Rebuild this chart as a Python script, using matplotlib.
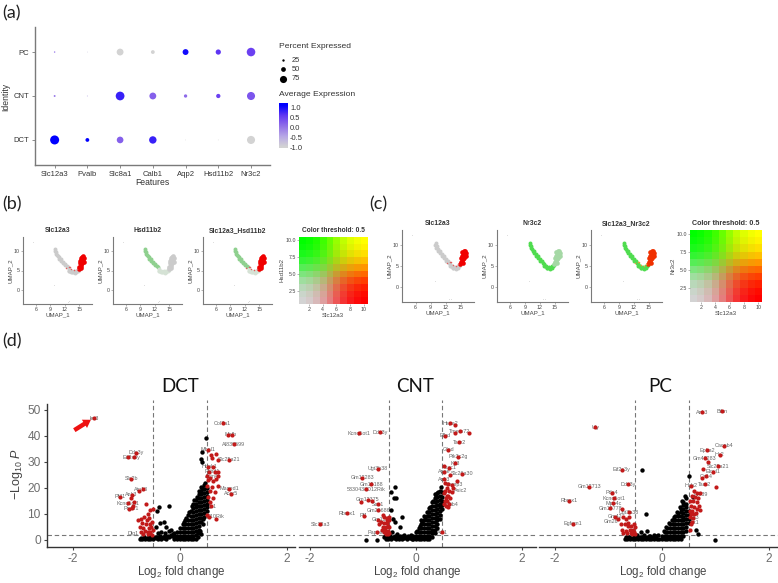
import numpy as np
import matplotlib
matplotlib.use("Agg")
import matplotlib.pyplot as plt
from matplotlib.colors import LinearSegmentedColormap

plt.rcParams["font.family"] = ["Liberation Sans", "DejaVu Sans"]
plt.rcParams["mathtext.fontset"] = "custom"
plt.rcParams["mathtext.rm"] = "Liberation Sans"
plt.rcParams["mathtext.it"] = "Liberation Sans:italic"
plt.rcParams["mathtext.default"] = "regular"

W, H = 778, 583

# ---- panel (a) dot plot values
features = ["Slc12a3", "Pvalb", "Slc8a1", "Calb1", "Aqp2", "Hsd11b2", "Nr3c2"]
identities = ["DCT", "CNT", "PC"]
pct_dct = [95, 40, 70, 78, 8, 8, 85]
pct_cnt = [20, 10, 92, 72, 35, 45, 85]
pct_pc = [15, 8, 72, 40, 62, 55, 90]
avg_dct = [1.1, 1.1, 0.2, 0.8, -1.0, -1.0, -1.0]
avg_cnt = [0.0, -0.5, 0.8, 0.2, 0.1, 0.5, 0.3]
avg_pc = [0.0, -0.8, -1.0, -1.0, 1.0, 0.6, 0.5]
legend_pct = [25, 50, 75]
legend_avg = [1.0, 0.5, 0.0, -0.5, -1.0]

# ---- panels (b) and (c): UMAP points
tail_x = [10.0, 9.9, 10.2, 10.1, 10.4, 10.5, 10.8, 10.9, 11.2, 11.3, 11.6, 11.7, 12.0, 12.1, 12.4, 12.6]
tail_y = [10.4, 9.9, 9.7, 9.3, 9.1, 8.6, 8.5, 8.0, 7.9, 7.4, 7.3, 6.9, 6.7, 6.3, 6.2, 5.8]
bottom_x = [12.8, 13.0, 13.3, 13.5, 13.8, 14.1, 14.4, 14.7, 14.9, 15.0, 12.9, 13.4, 13.9, 14.4]
bottom_y = [5.4, 5.0, 4.9, 4.5, 4.5, 4.4, 4.6, 4.9, 5.2, 5.7, 5.0, 4.6, 4.8, 5.0]
blob_x = [14.9, 15.0, 15.3, 15.1, 15.5, 15.7, 15.2, 15.5, 15.8, 16.0, 15.3, 15.6, 16.0, 15.8, 15.5]
blob_y = [5.4, 6.0, 6.2, 6.8, 6.7, 6.9, 7.5, 7.7, 7.5, 7.3, 8.3, 8.5, 8.1, 8.7, 5.7]
fleck_x = [12.3, 12.8, 13.4, 14.0, 14.5, 13.1]
fleck_y = [5.6, 5.9, 5.3, 5.1, 5.5, 6.0]
stray_x = [5.3, 13.0, 9.8, 12.6]
stray_y = [12.4, -2.8, 1.3, -3.0]
umap_xticks = [6, 9, 12, 15]
umap_yticks = [0, 5, 10]
blend_levels = [1, 2, 3, 4, 5, 6, 7, 8, 9, 10]

# ---- panel (d): DCT
dct_black_x = [-.75, -.7, -.65, -.6, -.55, -.5, -.45, -.4, -.35, -.3, -.25, -.2, -.15,
               -.72, -.67, -.62, -.57, -.52, -.47, -.42, -.37, -.32, -.27, -.22, -.17, -.12,
               -.45, -.37, -.3, -.25, -.35, -.4, -.28, -.2, -.38, -.42, -.17, -.2, .4, .48, .41, .42,
               -.1, -.1, -.1, -.05, -.05, -.05, 0, 0, 0, 0,
               .05, .05, .05, .05, .05, .1, .1, .1, .1, .1, .1,
               .15, .15, .15, .15, .15, .15, .15, .2, .2, .2, .2, .2, .2, .2, .2,
               .25, .25, .25, .25, .25, .25, .25, .25, .25, .25,
               .3, .3, .3, .3, .3, .3, .3, .3, .3, .3, .3,
               .35, .35, .35, .35, .35, .35, .35, .35, .35, .35, .35,
               .4, .4, .4, .4, .4, .4, .4, .4, .4, .4,
               .45, .45, .45, .45, .45, .45, .45, .45, .45,
               .5, .5, .5, .5, .5, .5, .5,
               .07, .12, .17, .22, .27, .32, .37, .42, .47, .33, .38, .43, .34, .39, .44]
dct_black_y = [.3, .2, .4, .3, .5, .2, .6, .3, .5, .8, .4, 1, 1.5,
               .9, 1.1, .8, 1.2, .9, 1.3, 1, 1.4, 1.1, 1.6, 1.4, 2, 2.2,
               5, 6.5, 7, 5, 3, 2.5, 2.5, 3.5, 12.5, 11, 4, 13, 31, 39.3, 34, 30,
               .3, 1.5, 2.8, .3, 1.7, 3.2, .3, 1.7, 3.2, 4.5,
               .3, 1.7, 3.2, 4.7, 6, .3, 1.7, 3.2, 4.7, 6.2, 7.5,
               .3, 1.7, 3.2, 4.7, 6.2, 7.7, 9.5, .3, 1.7, 3.2, 4.7, 6.2, 7.7, 9.2, 11,
               .3, 1.7, 3.2, 4.7, 6.2, 7.7, 9.2, 10.7, 12.2, 14,
               .3, 2, 3.5, 5, 6.5, 8, 9.5, 11, 12.5, 14, 15.5,
               4, 5.5, 7, 8.5, 10, 11.5, 13, 14.5, 16, 17.5, 19,
               7, 8.5, 10, 11.5, 13, 14.5, 16, 17.5, 19, 20.5,
               9, 10.5, 12, 13.5, 15, 16.5, 18, 19.5, 21,
               11, 12.5, 14, 15.5, 17, 18.5, 20,
               6.9, 8.6, 10.6, 13, 15.2, 16.6, 18.2, 20, 22, 2.6, 3.4, 6, 1.2, 2.4, 8]
dct_red_x = [.53, .59, .68, .72, .6, .53, .62, .55, .65, .72, .5, .57, .72, .68, .53, .62, .51, .6, .72, .56, .65, .53, .62, .56, .51, .55, .68,
             -.5, -.55, -.6, -.64, -.72, -.78, -.7, -.66, -.62, -.58, -.55, -.52, -.75, -.68, -.63, -.58, -.53, -.72, -.65, -.6, -.55, -.5, -.68, -.6, -.55, -.52, -.85, -.92, -.88, -.95]
dct_red_y = [34.6, 32.7, 33, 30.8, 31.4, 28.2, 28, 26.3, 26.3, 26.3, 24.4, 24, 24.6, 23.3, 23, 22.8, 20.8, 20.5, 20.8, 19, 18.6, 16.7, 16, 14.7, 9.6, 8.7, 8,
             12, 11.5, 10, 13.8, 8, 7.5, 6.5, 9, 7.5, 8.5, 6, 7, 5, 4.5, 6, 4.5, 5, 3, 3.5, 3, 3, 4, 2.2, 2.2, 2.5, 2.1, 14.5, 16, 13, 12]
dct_labels = ["Ier3", "Col7a1", "Mafb", "AI839599", "Slc25a21", "Ddx3y", "Eif2s3y", "Slc2b", "Atp13", "Pf41", "Ank3", "Kcnq1ot1", "Pcdh1",
              "Mbnl1", "Maged1", "Acer5", "D10Rik", "Hp1", "Hook1", "Pkhd1", "Actn4", "Dlg1"]
dct_label_x = [-1.6, .8, .94, 1.01, .92, -.81, -.9, -.91, -.72, -1.12, -.9, -.96, -.9, .53, .92, .96, .66, .59, .55, .6, .6, -.88]
dct_label_y = [46.7, 44.9, 40.4, 36.7, 30.8, 33.6, 31.8, 23.5, 19.3, 16.7, 17.3, 14.1, 12.2, 34.6, 19.6, 17.7, 9.2, 13, 28.2, 26.3, 24.4, 2.5]
dct_labeled_red_x = [-1.6, .8, .89, .98, 1.01, .92, -.81, -.96, -.85, -.91, -.76, -.68, -1.12, -.9, -.96, -.9, .92, .96, .59]
dct_labeled_red_y = [46.7, 44.9, 40.4, 40.4, 36.7, 30.8, 33.6, 31.8, 31.8, 23.5, 19, 19.6, 16.7, 17.3, 14.1, 12.2, 19.6, 17.7, 13]

# ---- panel (d): CNT
cnt_black_x = [-.93, -.74, -.6, -.56, -.52, -.47, -.42, -.37, -.32, -.27, -.22, -.17, -.12, -.07,
               -.58, -.54, -.49, -.44, -.39, -.34, -.29, -.24, -.19, -.14, -.09,
               -.4, -.47, -.37, -.42, -.46, -.26, -.43, -.4, -.3, -.22, -.5, -.45, -.36,
               -.05, -.05, 0, 0, 0, .05, .05, .05, .05, .1, .1, .1, .1, .1, .1,
               .15, .15, .15, .15, .15, .15, .15, .2, .2, .2, .2, .2, .2, .2, .2,
               .25, .25, .25, .25, .25, .25, .25, .25, .25,
               .3, .3, .3, .3, .3, .3, .3, .3, .3, .3,
               .35, .35, .35, .35, .35, .35, .35, .35, .35, .35, .35,
               .4, .4, .4, .4, .4, .4, .4, .4, .4, .4, .45, .45, .45, .45, .45, .45, .45, .45, .5, .5, .5, .5, .5,
               .02, .07, .12, .17, .22, .27, .32, .37, .42, .47]
cnt_black_y = [0, .1, 1, .5, .4, .3, .6, .3, .5, .4, .6, .3, .8, .5,
               1.4, 1.1, 1.5, 1.2, 1.6, 1.3, 1.4, 1.6, 1.2, 1.5, 1.8,
               20.5, 18.6, 16.2, 16, 11.5, 8.7, 8, 7, 5, 2, 2, 3, 2.2,
               .3, 1.5, .3, 1.7, 3, .3, 1.7, 3.2, 4.5, .3, 1.7, 3.2, 4.7, 6.2, 7.5,
               .3, 1.7, 3.2, 4.7, 6.2, 7.7, 9.3, .3, 1.7, 3.2, 4.7, 6.2, 7.7, 9.2, 10.8,
               .3, 1.7, 3.2, 4.7, 6.2, 7.7, 9.2, 10.7, 12.3,
               1, 2.5, 4, 5.5, 7, 8.5, 10, 11.5, 13, 14.5,
               2.5, 4, 5.5, 7, 8.5, 10, 11.5, 13, 14.5, 16, 17.5,
               4.5, 6, 7.5, 9, 10.5, 12, 13.5, 15, 16.5, 18, 8, 9.5, 11, 12.5, 14, 15.5, 17, 19, 12, 13.5, 15, 16.5, 18.5,
               3.6, 5.2, 7, 8.7, 10.6, 12.6, 15, 16.8, 18.6, 20.4]
cnt_red_x = [.64, .74, .74, .83, 1.0, .55, .82, .61, .8, .74, .63, .53, .53, .87, .64, .53, .77, .55, .6, .67, .7, .58, .62, .55, .52, .6, .56, .65, .58, .53, .63, .56, .6, .5, .54, .58, .67,
             -1.03, -.83, -.6, -.55, -.5, -.72, -.66, -.6, -.55, -.52, -.62, -.56, -.51, -.7, -.64, -.58, -.53, -.6, -.55, -.51, -.57, -.53, -.62, -.55, -.51]
cnt_red_y = [44.9, 44, 41, 41.7, 41, 40, 37.6, 34.6, 32, 29.5, 27.8, 28.5, 26.3, 25.4, 25, 23.3, 22.8, 22, 21.5, 21, 20, 20, 19, 19, 18, 17, 16, 16, 15, 14, 14, 13, 12.5, 3, 15, 17, 18.5,
             14.5, 15, 9, 8.5, 7.5, 7.5, 7, 6.5, 6.5, 5.5, 5, 5, 5, 6, 4, 4, 3.5, 3, 3, 2.5, 2.2, 2.2, 9.5, 7.5, 9]
cnt_labels = ["Hspa2", "Tmem72", "Efhd", "Tacr2", "Gfod", "Pik3c2g", "Kif3", "Foxc1", "Apoe", "Slc26a30", "Ank3", "Ramp3", "Asic2", "Nfib4",
              "Kcnq1ot1", "Ddx3y", "Ugt3b38", "Gm12283", "Gm15188", "5330438D12Rik", "Gm12375", "Sox1", "Gm26686", "Rbmx1", "Pf1", "Slc12a3", "Gm13786", "Pappa2", "Adi1"]
cnt_label_x = [.64, .83, .55, .82, .61, .8, .74, .63, .53, .87, .53, .72, .85, .67,
               -1.08, -.68, -.71, -1.01, -.84, -.93, -.91, -.71, -.71, -1.3, -.98, -1.8, -.6, -.74, .5]
cnt_label_y = [44.9, 41.7, 40, 37.6, 34.6, 32, 29.5, 27.8, 26.3, 25.4, 23.3, 21.3, 18.9, 13.5,
               41, 41.5, 27.4, 24, 21.5, 19.5, 15.4, 13.7, 11.4, 10.3, 9.4, 6, 8, 3, 3]
cnt_labeled_red_x = [-1.08, -.68, -.71, -1.01, -.84, -.93, -.91, -.71, -.71, -1.3, -.98, -1.8, -.74]
cnt_labeled_red_y = [41, 41.5, 27.4, 24, 21.5, 19.5, 15.4, 13.7, 11.4, 10.3, 9.4, 6, 3]

# ---- panel (d): PC
pc_black_x = [-.69, -.65, -.6, -.55, -.5, -.45, -.4, -.35, -.3, -.25, -.2, -.15, -.1, -.05,
              -.67, -.62, -.57, -.52, -.47, -.42, -.37, -.32, -.27, -.22, -.17, -.12, -.07,
              -.37, -.29, -.46, -.4, -.34, -.25, -.15, -.28, .5, .99, .68, .58, .63,
              0, 0, .05, .05, .05, .1, .1, .1, .1, .15, .15, .15, .15, .15,
              .2, .2, .2, .2, .2, .2, .25, .25, .25, .25, .25, .25, .25,
              .3, .3, .3, .3, .3, .3, .3, .3, .35, .35, .35, .35, .35, .35, .35, .35, .35,
              .4, .4, .4, .4, .4, .4, .4, .4, .4, .4, .45, .45, .45, .45, .45, .45, .45, .45, .45,
              .5, .5, .5, .5,
              .03, .08, .13, .18, .23, .28, .33, .38, .43]
pc_black_y = [.2, .3, .2, .4, .2, .3, .4, .2, .3, .5, .2, .3, .4, .5,
              1, 1.2, .9, 1.1, 1.2, 1, 1.3, 1, 1.2, 1.4, 1.1, 1.5, 1.8,
              27, 9.9, 2, 3, 1.8, 1.6, 2, 3.5, 24.6, 0, 2.3, 16.5, 4,
              .3, 1.5, .3, 1.7, 3, .3, 1.7, 3.2, 4.5, .3, 1.7, 3.2, 4.7, 6,
              .3, 1.7, 3.2, 4.7, 6.2, 7.5, .3, 1.7, 3.2, 4.7, 6.2, 7.7, 9.2,
              .3, 1.7, 3.2, 4.7, 6.2, 7.7, 9.2, 10.5, .3, 1.7, 3.2, 4.7, 6.2, 7.7, 9.2, 10.7, 12,
              1.5, 3, 4.5, 6, 7.5, 9, 10.5, 12, 13.5, 14.5, 3.5, 5, 6.5, 8, 9.5, 11, 12.5, 14, 16,
              6.5, 8, 9.5, 11,
              3.4, 5, 6.4, 7.8, 9, 10.6, 12.8, 15, 16.8]
pc_red_x = [.75, 1.13, .77, .74, .87, 1.01, .54, .6, .65, .72, .56, .62, .68, .53, .58, .65, .7, .55, .6, .66, .72, .52, .57, .63, .55, .6, .53, .58, .57, .55, .52,
            -.97, -.88, -.74, -.82, -.72, -.68, -.62, -.76, -.7, -.64, -.58, -.52, -.75, -.67, -.6, -.55, -.5, -.72, -.65, -.58, -.52, -.63, -.56, -.5]
pc_red_y = [49, 49.4, 27.4, 24, 29.9, 20.5, 20.8, 19, 18, 18, 17, 16.5, 16, 15, 15, 14.5, 13, 13, 12.5, 12, 11.5, 11, 11, 10.5, 10, 10, 9, 8.5, 7, 6, 4,
            12.2, 9, 12, 8, 9, 8, 9, 6, 6, 6.5, 5.5, 6, 4, 3.5, 4, 4, 5, 2.8, 2.6, 2.5, 3, 5.5, 2.2, 2.2]
pc_labels = ["Uty", "Ank3", "Btbn", "Cacnb4", "Epha2", "Hk2", "Gm47283", "Slc25a21", "Elovl1", "Ca14", "Tacr2", "Hbb2", "Rnf39", "Ka3", "Wnt1",
             "Eif2s3y", "Ddx3y", "Gm12713", "Pde4", "Kcnq1ot1", "Mpp4c", "Gm13778", "Ugt3a38", "Rbmx1", "Egfem1", "Gm42", "Gm26"]
pc_label_x = [-1.25, .75, 1.13, 1.16, .85, 1.08, .8, 1.05, .96, .83, .8, .54, .72, .6, .58,
              -.75, -.63, -1.36, -.94, -.9, -.91, -.97, -.62, -1.73, -1.66, -.88, -.95]
pc_label_y = [43.3, 49, 49.4, 36.2, 34.4, 32.8, 31.4, 28.3, 26.2, 24.4, 21.5, 20.8, 17.5, 8.6, 6.7,
              27, 21.5, 20.4, 18.2, 16, 14.1, 12.2, 10.6, 15.1, 6.2, 9, 7]
pc_labeled_red_x = [-1.25, 1.16, .85, 1.08, .8, 1.05, .96, .83, .8, -.75, -.63, -1.36, -.94, -.9, -.91, -.62, -1.73, -1.66]
pc_labeled_red_y = [43.3, 36.2, 34.4, 32.8, 31.4, 28.3, 26.2, 24.4, 21.5, 27, 21.5, 20.4, 18.2, 16, 14.1, 10.6, 15.1, 6.2]

# ---- shared colours
GREY_TXT = "#4d4d4d"
AXIS_GREY = "#7a7a7a"
RED = "#c21a1a"
# grey to blue goes through purple in the reference
dot_cmap = LinearSegmentedColormap.from_list("dot", ["#d3d3d3", "#b8a8e6", "#9270e8", "#6438f2", "#0000ff"])


def add_ax(x0, y0, x1, y1):
    # axes given in pixels of the 778x583 picture, y going down
    return fig.add_axes([x0 / W, 1 - y1 / H, (x1 - x0) / W, (y1 - y0) / H])


def dot_size(pct):
    # radius grows with percent (Seurat style), returned in points^2
    return (np.asarray(pct) * 0.095 * 0.72) ** 2


def blend_colors(levels):
    # Seurat style blend: grey corner, red along x, green along y, threshold 0.5
    lv = (np.asarray(levels) - 1) / 9
    steep = 1 / (1 + np.exp(-(lv - 0.5) * 6))
    steep = (steep - steep.min()) / (steep.max() - steep.min())
    tr, tg = np.meshgrid(steep, steep)
    base = 0.83
    r = (base + (1 - base) * tr) * (1 - tg) + tr * tg
    g = (base + (1 - base) * tg) * (1 - tr) + tr * tg
    b = base * (1 - tr) * (1 - tg)
    return np.dstack([r, g, b])


fig = plt.figure(figsize=(W / 100, H / 100), dpi=100)

# whole-picture overlay, used for panel letters and legend placement
over = fig.add_axes([0, 0, 1, 1], zorder=5)
over.set_xlim(0, W)
over.set_ylim(H, 0)
over.axis("off")
over.patch.set_alpha(0)

for letter, lx, ly in [("(a)", 2, 13), ("(b)", 2, 204), ("(c)", 369, 204), ("(d)", 2, 341)]:
    over.text(lx, ly, letter, fontsize=13, family="Lato", color="#222222", va="center")

# ---- panel (a)
ax = add_ax(35, 27, 270, 165)
for row, (pct, avg) in enumerate([(pct_dct, avg_dct), (pct_cnt, avg_cnt), (pct_pc, avg_pc)]):
    ax.scatter(range(len(features)), [row] * len(features), s=dot_size(pct), c=avg,
               cmap=dot_cmap, vmin=-1, vmax=1.1, linewidths=0)
ax.set_xlim(-0.6, 6.58)
ax.set_ylim(-0.57, 2.57)
ax.set_xticks(range(len(features)), features)
ax.set_yticks(range(len(identities)), identities)
ax.tick_params(labelsize=5.5, colors="#333333", length=2, width=0.6, pad=2, color=AXIS_GREY)
for side in ["top", "right"]:
    ax.spines[side].set_visible(False)
for side in ["left", "bottom"]:
    ax.spines[side].set_color(AXIS_GREY)
    ax.spines[side].set_linewidth(1)
ax.set_xlabel("Features", fontsize=6.2, color="#333333", labelpad=0)
ax.set_ylabel("Identity", fontsize=6.2, color="#333333")
ax.yaxis.set_label_coords(-0.106, 0.49)

over.text(279, 47, "Percent Expressed", fontsize=6.1, color="#333333", va="center")
over.text(279, 95, "Average Expression", fontsize=6.1, color="#333333", va="center")
for i, p in enumerate(legend_pct):
    over.scatter(283, 60 + 9.3 * i, s=dot_size(p), color="black", linewidths=0)
    over.text(292, 60 + 9.3 * i, str(p), fontsize=5.4, color="#333333", va="center")

cax = add_ax(279, 103, 288, 148)
cax.imshow(np.linspace(1.2, -1.05, 100).reshape(-1, 1), aspect="auto", cmap=dot_cmap,
           vmin=-1, vmax=1.1, extent=[0, 1, -1.05, 1.2])
cax.set_xticks([])
cax.yaxis.tick_right()
cax.set_yticks(legend_avg, ["1.0", "0.5", "0.0", "-0.5", "-1.0"])
cax.tick_params(labelsize=5.4, colors="#333333", length=0, pad=1.5)
for s in cax.spines.values():
    s.set_visible(False)


def umap_panel(box, title, tail_col, bottom_col, blob_col, fleck_col=None):
    a = add_ax(*box)
    a.scatter(stray_x, stray_y, s=0.5, color="#dddddd", linewidths=0)
    a.scatter(tail_x, tail_y, s=8, color=tail_col, linewidths=0)
    a.scatter(bottom_x, bottom_y, s=8, color=bottom_col, linewidths=0)
    a.scatter(blob_x, blob_y, s=11, color=blob_col, linewidths=0)
    if fleck_col:
        a.scatter(fleck_x, fleck_y, s=1.2, color=fleck_col, linewidths=0)
    a.set_xlim(3.3, 17.7)
    a.set_ylim(-3.6, 13.6)
    a.set_xticks(umap_xticks)
    a.set_yticks(umap_yticks)
    a.tick_params(labelsize=3.8, colors="#444444", length=1.2, width=0.4, pad=1, color=AXIS_GREY)
    for side in ["top", "right"]:
        a.spines[side].set_visible(False)
    for side in ["left", "bottom"]:
        a.spines[side].set_color(AXIS_GREY)
        a.spines[side].set_linewidth(0.8)
    a.set_xlabel("UMAP_1", fontsize=4.4, color="#444444", labelpad=0.5)
    a.set_ylabel("UMAP_2", fontsize=4.4, color="#444444", labelpad=0.5)
    a.set_title(title, fontsize=4.9, fontweight="bold", color="#333333", pad=3.5)
    return a


def blend_panel(box, ylabel, title_size):
    a = add_ax(*box)
    a.imshow(blend_colors(blend_levels), origin="lower", extent=[0.5, 10.5, 0.5, 10.5], aspect="auto")
    a.set_xticks([2, 4, 6, 8, 10])
    a.set_yticks([2.5, 5, 7.5, 10], ["2.5", "5.0", "7.5", "10.0"])
    a.tick_params(labelsize=3.8, colors="#444444", length=1.2, width=0.4, pad=1, color=AXIS_GREY)
    for s in a.spines.values():
        s.set_visible(False)
    a.set_xlabel("Slc12a3", fontsize=4.4, color="#444444", labelpad=0.5)
    a.set_ylabel(ylabel, fontsize=4.4, color="#444444", labelpad=1)
    a.set_title("Color threshold: 0.5", fontsize=title_size, fontweight="bold", color="#333333", pad=3.5)


LGREY = "#cbcbcb"
PGREEN = "#8fd08f"
BGREEN = "#4fdc4f"

# ---- panel (b)
umap_panel((23, 237, 92, 304), "Slc12a3", LGREY, LGREY, "#f00000", "#e06060")
umap_panel((113, 237, 182, 304), "Hsd11b2", PGREEN, "#d5e2d5", LGREY)
umap_panel((203, 237, 272, 304), "Slc12a3_Hsd11b2", PGREEN, "#d5e2d5", "#f00000", "#e06060")
blend_panel((299, 237, 367, 304), "Hsd11b2", 4.8)

# ---- panel (c)
umap_panel((402, 230, 474, 302), "Slc12a3", LGREY, LGREY, "#f00000", "#e06060")
umap_panel((497, 230, 568, 302), "Nr3c2", BGREEN, BGREEN, "#a5d8a5")
umap_panel((591, 230, 662, 302), "Slc12a3_Nr3c2", BGREEN, BGREEN, "#f03000", "#e0a040")
blend_panel((690, 230, 762, 302), "Nr3c2", 5.1)


def volcano(x0, x1, zero_px, xlim, title, tx, bx, by, rx, ry, labs, lx, ly, extra_rx, extra_ry, left=False):
    a = add_ax(x0, 400, x1, 547)
    a.set_xlim(*xlim)
    a.set_ylim(-2.7, 53.8)
    a.patch.set_alpha(0)
    for lab, px, py in zip(labs, lx, ly):
        a.text(px, py, lab, fontsize=3.9, color="#666666", ha="center", va="center", zorder=2)
    a.scatter(bx, by, s=10, color="black", linewidths=0, zorder=3)
    a.scatter(rx, ry, s=9, color=RED, linewidths=0, zorder=4)
    a.scatter(extra_rx, extra_ry, s=9, color=RED, linewidths=0, zorder=4)
    a.axvline(-0.5, color="#777777", lw=0.8, dashes=(4, 2.5), zorder=1)
    a.axvline(0.5, color="#777777", lw=0.8, dashes=(4, 2.5), zorder=1)
    a.axhline(2, color="#777777", lw=0.8, dashes=(4, 2.5), zorder=1)
    a.set_xticks([-2, 0, 2], ["-2", "0", "2"])
    a.tick_params(axis="x", labelsize=8.6, colors="#6e6e6e", length=2.5, width=0.8, pad=2, color="#444444")
    for side in ["top", "right", "left"]:
        a.spines[side].set_visible(False)
    a.spines["bottom"].set_color("#333333")
    a.spines["bottom"].set_linewidth(1)
    over.text(zero_px + 1, 572, r"Log$_{2}$ fold change", fontsize=8.3, color="#444444", ha="center", va="center")
    if left:
        a.spines["left"].set_visible(True)
        a.spines["left"].set_color("#333333")
        a.spines["left"].set_linewidth(1)
        a.spines["left"].set_bounds(-2.7, 52.3)
        a.set_yticks([0, 10, 20, 30, 40, 50])
        a.tick_params(axis="y", labelsize=8.6, colors="#6e6e6e", length=2.5, width=0.8, pad=2, color="#444444")
        over.text(17, 474, r"$-$Log$_{10}$ $\mathit{P}$", fontsize=9, color="#444444", rotation=90, ha="center", va="center")
    else:
        a.set_yticks([])
    over.text(tx, 386, title, fontsize=13.5, family="Lato", color="#111111", ha="center", va="center")
    return a


# ---- panel (d)
dct_ax = volcano(47, 295, 180, (-2.48, 2.15), "DCT", 180, dct_black_x, dct_black_y, dct_red_x, dct_red_y,
                 dct_labels, dct_label_x, dct_label_y, dct_labeled_red_x, dct_labeled_red_y, left=True)
dct_ax.annotate("", xy=(-1.66, 46.2), xytext=(-1.97, 42.2),
                arrowprops=dict(arrowstyle="simple,head_length=0.55,head_width=0.7,tail_width=0.32",
                                color="#ee1111", lw=0, shrinkA=0, shrinkB=0), zorder=6)
volcano(299, 536, 416, (-2.2, 2.26), "CNT", 415, cnt_black_x, cnt_black_y, cnt_red_x, cnt_red_y,
        cnt_labels, cnt_label_x, cnt_label_y, cnt_labeled_red_x, cnt_labeled_red_y)
volcano(539, 778, 662, (-2.3, 2.17), "PC", 660, pc_black_x, pc_black_y, pc_red_x, pc_red_y,
        pc_labels, pc_label_x, pc_label_y, pc_labeled_red_x, pc_labeled_red_y)

fig.savefig("out.png", dpi=100, facecolor="white")
